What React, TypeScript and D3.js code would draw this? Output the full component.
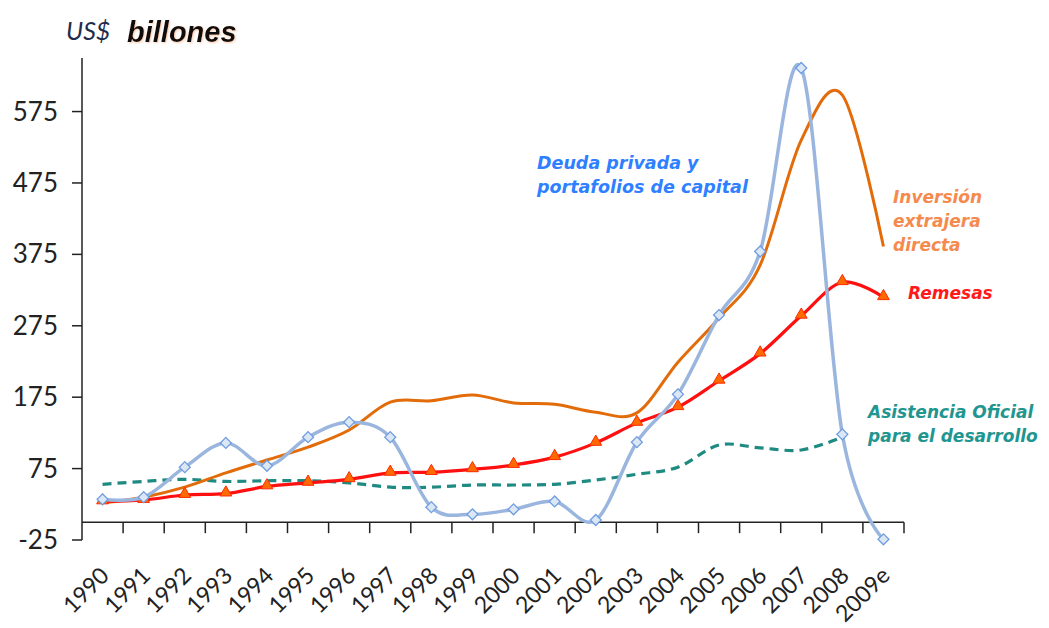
import React from "react";
import * as d3 from "d3";

// --- data (US$ billones) ---
const years = ["1990", "1991", "1992", "1993", "1994", "1995", "1996", "1997", "1998", "1999",
  "2000", "2001", "2002", "2003", "2004", "2005", "2006", "2007", "2008", "2009e"];
const deuda = [32, 35, 77, 111, 79, 119, 140, 119, 21, 11, 18, 29, 3, 112, 179, 290, 379, 636, 123, -24];
const inversion = [27, 35, 49, 69, 87, 105, 129, 168, 170, 178, 167, 165, 154, 153, 224, 286, 360, 535, 598, 386];
const remesas = [29, 31, 38, 40, 50, 55, 60, 69, 70, 74, 80, 91, 111, 139, 161, 198, 236, 289, 336, 315];
const asistencia = [53, 57, 60, 57, 58, 58, 55, 49, 49, 52, 52, 53, 59, 67, 77, 108, 104, 101, 119];
const yTicks = [-25, 75, 175, 275, 375, 475, 575];

const W = 1049;
const H = 628;

export default function App() {
  const x = d3.scaleBand<string>().domain(years).range([82, 904]).padding(0);
  const cx = (i: number) => (x(years[i]) as number) + x.bandwidth() / 2;
  const y = d3.scaleLinear().domain([-25, 650]).range([540, 58]);

  const line = d3.line<number>()
    .x((_, i) => cx(i))
    .y(d => y(d))
    .curve(d3.curveCardinal.tension(0));

  const diamond = d3.symbol().type(d3.symbolSquare).size(60)();
  const triangle = d3.symbol().type(d3.symbolTriangle).size(60)();

  const labelFont = "'DejaVu Sans', Verdana, sans-serif";
  const tickFont = "Lato, 'Open Sans', sans-serif";

  return (
    <svg width={W} height={H} style={{ position: "absolute", left: 0, top: 0, background: "#fff" }}>
      <defs>
        <filter id="glow" x="-10%" y="-30%" width="120%" height="160%">
          <feGaussianBlur in="SourceAlpha" stdDeviation="1.2" result="b" />
          <feFlood floodColor="#f3a070" floodOpacity="0.55" />
          <feComposite in2="b" operator="in" result="s" />
          <feOffset dx="1" dy="1" result="o" />
          <feMerge>
            <feMergeNode in="o" />
            <feMergeNode in="SourceGraphic" />
          </feMerge>
        </filter>
      </defs>

      {/* title */}
      <text x={66} y={40} fontFamily={tickFont} fontStyle="italic" fontWeight={400} fontSize={25} fill="#1f2c4c">US$</text>
      <text x={127} y={42} fontFamily="'Liberation Sans', Arial, sans-serif" fontStyle="italic" fontWeight="bold" fontSize={29} fill="#111" filter="url(#glow)">billones</text>

      {/* y axis */}
      <line x1={82} x2={82} y1={58} y2={540} stroke="#222" strokeWidth={1.5} />
      {yTicks.map(t => (
        <g key={t}>
          <line x1={72} x2={82} y1={y(t)} y2={y(t)} stroke="#222" strokeWidth={1.5} />
          <text x={58} y={y(t)} dy="0.35em" textAnchor="end" fontFamily={tickFont} fontSize={26} fill="#222">{t}</text>
        </g>
      ))}

      {/* x axis */}
      <line x1={82} x2={904} y1={y(0)} y2={y(0)} stroke="#222" strokeWidth={1.5} />
      {years.map((yr, i) => (
        <g key={yr}>
          <line x1={(x(yr) as number) + x.bandwidth()} x2={(x(yr) as number) + x.bandwidth()} y1={y(0)} y2={y(0) + 11} stroke="#222" strokeWidth={1.5} />
          <text transform={`translate(${cx(i) + 8},${577}) rotate(-45)`} textAnchor="end" fontFamily={tickFont} fontSize={23} fill="#222">{yr}</text>
        </g>
      ))}

      {/* Asistencia Oficial */}
      <path d={line(asistencia) as string} fill="none" stroke="#1f8a82" strokeWidth={3.2} strokeDasharray="9,6" />

      {/* Inversion extranjera directa */}
      <path d={line(inversion) as string} fill="none" stroke="#e36c0a" strokeWidth={3} />

      {/* Remesas */}
      <path d={line(remesas) as string} fill="none" stroke="#ff1010" strokeWidth={3.2} />
      {remesas.map((v, i) => (
        <path key={i} d={triangle as string} transform={`translate(${cx(i)},${y(v) - 1})`} fill="#ff6a00" stroke="#ff2a00" strokeWidth={1} />
      ))}

      {/* Deuda privada */}
      <path d={line(deuda) as string} fill="none" stroke="#9ab6de" strokeWidth={3.5} />
      {deuda.map((v, i) => (
        <path key={i} d={diamond as string} transform={`translate(${cx(i)},${y(v)}) rotate(45)`} fill="#dce7f6" stroke="#6f9de0" strokeWidth={1.3} />
      ))}

      {/* labels */}
      <g fontFamily={labelFont} fontStyle="italic" fontWeight="bold" fontSize={17.5}>
        <text x={537} y={169} fill="#2f80ff">Deuda privada y</text>
        <text x={537} y={193} fill="#2f80ff">portafolios de capital</text>
        <text x={893} y={203} fill="#f58a4e" fontSize={17}>Inversión</text>
        <text x={893} y={227} fill="#f58a4e" fontSize={17}>extrajera</text>
        <text x={893} y={251} fill="#f58a4e" fontSize={17}>directa</text>
        <text x={908} y={299} fill="#ff1a1a" fontSize={17}>Remesas</text>
        <text x={868} y={418} fill="#219590" fontSize={17}>Asistencia Oficial</text>
        <text x={868} y={442} fill="#219590" fontSize={17}>para el desarrollo</text>
      </g>
    </svg>
  );
}
